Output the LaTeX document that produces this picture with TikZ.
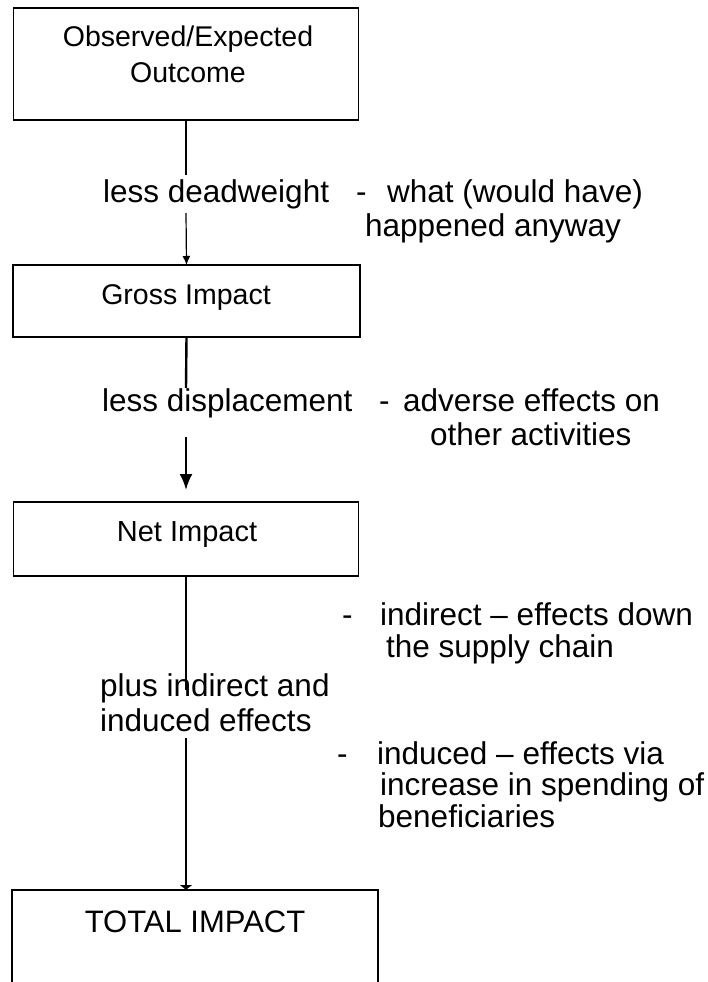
\documentclass[tikz,border=0pt]{standalone}
\usepackage{fontspec}
\setmainfont{Liberation Sans}
\usetikzlibrary{arrows.meta}
\begin{document}
\begin{tikzpicture}[x=1pt,y=-1pt,
  boxst/.style={draw, line width=1.8pt, inner sep=0pt, outer sep=0pt},
  btext/.style={anchor=base, inner sep=0pt, font=\fontsize{28.5}{34}\selectfont},
  ltext/.style={anchor=base west, inner sep=0pt, font=\fontsize{31.5}{38}\selectfont},
  thickln/.style={line width=2.4pt},
  thinln/.style={line width=1.2pt}]
\useasboundingbox (0,0) rectangle (707,982);

% boxes
\node[boxst, minimum width=345pt, minimum height=112pt] (b1) at (186,64) {};
\node[boxst, minimum width=347pt, minimum height=72pt] (b2) at (186.5,301) {};
\node[boxst, minimum width=345pt, minimum height=74pt] (b3) at (186,539) {};
\node[boxst, minimum width=366pt, minimum height=200pt] (b4) at (195,990) {};

% box texts
\node[btext] (t1a) at (188,47) {Observed/Expected};
\node[btext] (t1b) at (188,82) {Outcome};
\node[btext] (t2) at (186,304) {Gross Impact};
\node[btext, font=\fontsize{29}{34}\selectfont] (t3) at (187,541) {Net Impact};
\node[btext, font=\fontsize{31}{36}\selectfont] (t4) at (195,932) {TOTAL IMPACT};

% connector labels
\node[ltext] (l1) at (103,202) {less deadweight};
\node[ltext] (l2) at (102,411) {less displacement};
\node[ltext] (l3a) at (100,696) {plus indirect and};
\node[ltext] (l3b) at (100,731) {induced effects};

% side notes
\node[ltext] (n1a) at (356,202) {\makebox[31pt][l]{-}what (would have)};
\node[ltext] (n1b) at (365,236) {happened anyway};
\node[ltext] (n2a) at (379,411) {\makebox[24pt][l]{-}adverse effects on};
\node[ltext] (n2b) at (430,445) {other activities};
\node[ltext] (n3a) at (342,625) {\makebox[38pt][l]{-}indirect -- effects down};
\node[ltext] (n3b) at (386,657) {the supply chain};
\node[ltext] (n4a) at (337,764) {\makebox[40pt][l]{-}induced -- effects via};
\node[ltext] (n4b) at (380,795) {increase in spending of};
\node[ltext] (n4c) at (378,827) {beneficiaries};

% connector break points
\coordinate (g1a) at (186,175);
\coordinate (g1b) at (186,213);
\coordinate (g2a) at (186,388);
\coordinate (g2b) at (186,437);
\coordinate (g3a) at (186,608);
\coordinate (g3b) at (186,690);
\coordinate (g3c) at (186,738);

% connectors
\draw[thickln] (b1.south) -- (g1a);
\draw[thinln, -{Latex[length=9pt,width=8pt]}] (g1b) -- (b2.north);
\draw[thickln] (b2.south) -- (g2a);
\draw[thickln, -{Latex[length=16pt,width=13pt]}, shorten >=12pt] (g2b) -- (b3.north);
\draw[thickln] (b3.south) -- (g3a);
\draw[thinln] (g3a) -- (g3b);
\draw[thinln, -{Latex[length=5pt,width=14pt]}] (g3c) -- (b4.north -| g3c);
\end{tikzpicture}
\end{document}
